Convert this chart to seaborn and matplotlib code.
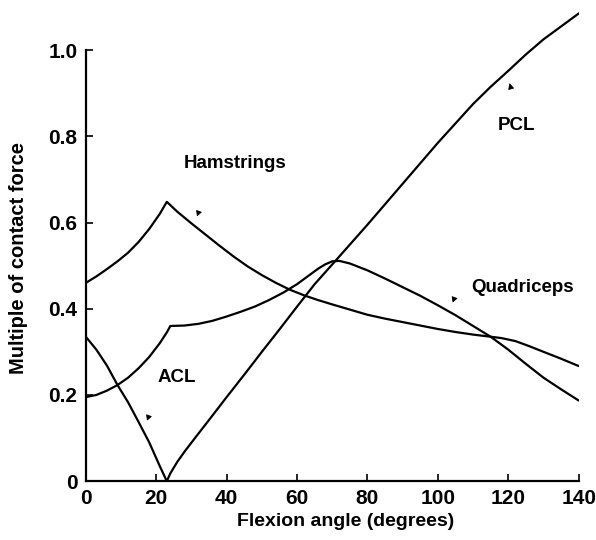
import numpy as np
import pandas as pd
import seaborn as sns
import matplotlib.pyplot as plt

# values (flexion angle in degrees, multiple of contact force)
ham_x = [0, 3, 6, 9, 12, 15, 18, 21, 23, 26, 30, 34, 38, 42, 46, 50, 54, 58, 62, 66, 70,
         75, 80, 85, 90, 95, 100, 105, 110, 115, 118, 122, 126, 130, 135, 140]
ham_y = [0.46, 0.475, 0.492, 0.51, 0.53, 0.555, 0.585, 0.62, 0.648, 0.625, 0.598, 0.572,
         0.546, 0.521, 0.498, 0.478, 0.46, 0.444, 0.431, 0.42, 0.41, 0.398, 0.386, 0.377,
         0.369, 0.361, 0.353, 0.346, 0.34, 0.335, 0.332, 0.325, 0.313, 0.3, 0.284, 0.267]

quad_x = [0, 3, 6, 9, 12, 15, 18, 21, 23, 24, 28, 32, 36, 40, 44, 48, 52, 56, 60, 63, 66,
          68, 70, 72, 75, 80, 85, 90, 95, 100, 105, 110, 115, 120, 125, 130, 135, 140]
quad_y = [0.195, 0.2, 0.21, 0.223, 0.24, 0.262, 0.288, 0.32, 0.345, 0.36, 0.361, 0.365,
          0.372, 0.382, 0.393, 0.405, 0.42, 0.437, 0.457, 0.475, 0.493, 0.503, 0.51, 0.511,
          0.505, 0.489, 0.47, 0.45, 0.43, 0.408, 0.385, 0.36, 0.335, 0.305, 0.272, 0.24,
          0.213, 0.187]

acl_x = [0, 3, 6, 9, 12, 15, 18, 21, 23]
acl_y = [0.335, 0.305, 0.268, 0.223, 0.183, 0.137, 0.09, 0.035, 0.0]

pcl_x = [23, 24, 26, 28, 31, 35, 40, 45, 50, 55, 60, 65, 71, 80, 90, 100, 110, 115, 120,
         125, 130, 135, 140]
pcl_y = [0.0, 0.018, 0.045, 0.068, 0.1, 0.142, 0.195, 0.247, 0.3, 0.352, 0.405, 0.457,
         0.512, 0.595, 0.69, 0.785, 0.875, 0.915, 0.952, 0.99, 1.025, 1.055, 1.085]

labels = ["Hamstrings", "Quadriceps", "ACL", "PCL"]

sns.set_theme(style="white")
plt.rcParams['font.family'] = ['Liberation Sans', 'DejaVu Sans']
plt.rcParams['font.weight'] = 'bold'

fig = plt.figure(figsize=(5.96, 5.40), dpi=100)
ax = fig.add_axes([0.144, 0.109, 0.827, 0.878])

for xs, ys in [(ham_x, ham_y), (quad_x, quad_y), (acl_x, acl_y), (pcl_x, pcl_y)]:
    sns.lineplot(x=xs, y=ys, ax=ax, color="black", linewidth=1.6, sort=False)

# curve labels
lab = dict(fontsize=13.5, ha="center", va="center", color="black", fontweight="bold")
ax.text(42.3, 0.738, labels[0], **lab)
ax.text(124, 0.45, labels[1], **lab)
ax.text(25.7, 0.24, labels[2], **lab)
ax.text(122.3, 0.826, labels[3], **lab)

# little pointer marks next to the curves
arrow = dict(arrowstyle="wedge,tail_width=0.3", color="black", lw=0.6)
ax.annotate("", xy=(31.4, 0.61), xytext=(32.4, 0.632), arrowprops=arrow)
ax.annotate("", xy=(17.2, 0.136), xytext=(18.2, 0.158), arrowprops=arrow)
ax.annotate("", xy=(104.0, 0.41), xytext=(105.0, 0.432), arrowprops=arrow)
ax.annotate("", xy=(120.2, 0.928), xytext=(121.0, 0.904), arrowprops=arrow)

ax.set_xlim(0, 140)
ax.set_ylim(0, 1.1)
ax.set_xticks(np.arange(0, 141, 20))
ax.set_yticks([0, 0.2, 0.4, 0.6, 0.8, 1.0])
ax.set_yticklabels(["0", "0.2", "0.4", "0.6", "0.8", "1.0"])
ax.tick_params(direction="in", length=5, width=1.2, labelsize=15, colors="black",
               left=True, bottom=True, pad=6)

ax.spines["top"].set_visible(False)
ax.spines["right"].set_visible(False)
for s in ["left", "bottom"]:
    ax.spines[s].set_color("black")
    ax.spines[s].set_linewidth(1.6)
ax.spines["left"].set_bounds(0, 1.0)

ax.set_xlabel("Flexion angle (degrees)", fontsize=14, color="black", fontweight="bold")
ax.set_ylabel("Multiple of contact force", fontsize=14.5, color="black", fontweight="bold")
ax.xaxis.set_label_coords(0.527, -0.068)
ax.yaxis.set_label_coords(-0.118, 0.47)

fig.savefig("out.png", dpi=100)
